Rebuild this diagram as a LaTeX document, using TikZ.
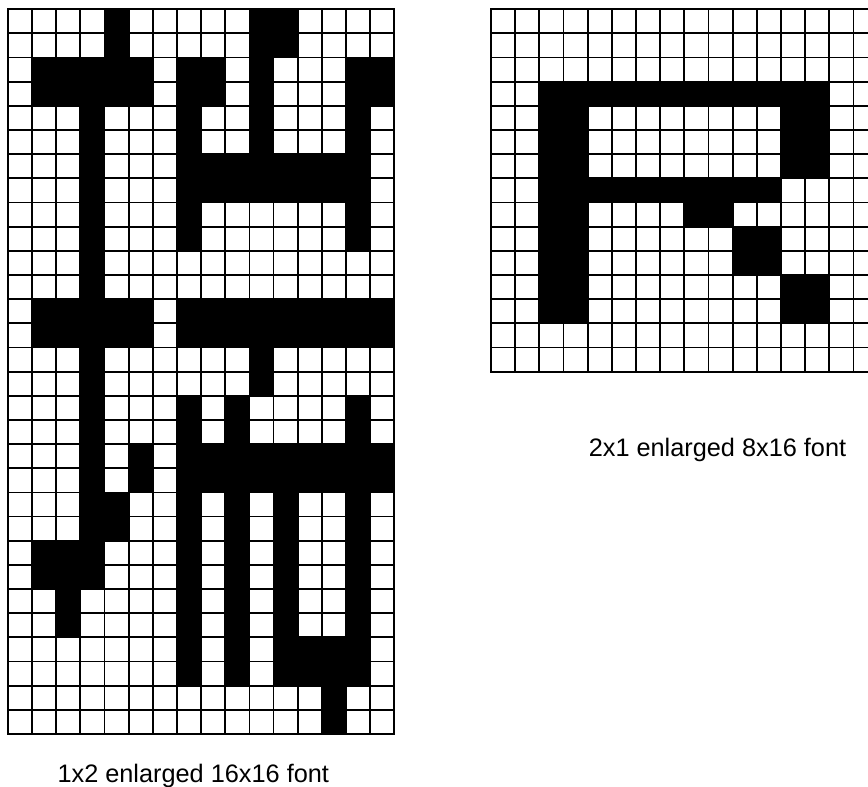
\documentclass[tikz,border=0pt]{standalone}
\usepackage{fontspec}
\setmainfont{Liberation Sans}
\begin{document}
\begin{tikzpicture}[x=1pt,y=-1pt,
  gridline/.style={line width=1.8pt, black, line cap=rect},
  cellfill/.style={fill=black},
  caption/.style={font=\fontsize{25.3}{30}\selectfont, inner sep=0pt, anchor=base}]
\useasboundingbox (0,0) rectangle (868,787);
\def\cs{24.16}
% left grid: 16 x 30
\begin{scope}[shift={(7.8,9.2)}]
  \foreach \r/\s/\a/\b in {0/1/4/4, 0/1/10/11,
    2/3/1/5, 2/3/7/8, 2/3/10/10, 2/3/14/15,
    4/5/3/3, 4/5/7/7, 4/5/10/10, 4/5/14/14,
    6/7/3/3, 6/7/7/14,
    8/9/3/3, 8/9/7/7, 8/9/14/14,
    10/11/3/3,
    12/13/1/5, 12/13/7/15,
    14/15/3/3, 14/15/10/10,
    16/17/3/3, 16/17/7/7, 16/17/9/9, 16/17/14/14,
    18/19/3/3, 18/19/5/5, 18/19/7/15,
    20/21/3/4, 20/21/7/7, 20/21/9/9, 20/21/11/11, 20/21/14/14,
    22/23/1/3, 22/23/7/7, 22/23/9/9, 22/23/11/11, 22/23/14/14,
    24/25/2/2, 24/25/7/7, 24/25/9/9, 24/25/11/11, 24/25/14/14,
    26/27/7/7, 26/27/9/9, 26/27/11/14,
    28/29/13/13}
    \fill[cellfill] ({\a*\cs},{\r*\cs}) rectangle ({(\b+1)*\cs},{(\s+1)*\cs});
  \foreach \i in {0,...,16}
    \draw[gridline] ({\i*\cs},0) -- ({\i*\cs},{30*\cs});
  \foreach \j in {0,...,30}
    \draw[gridline] (0,{\j*\cs}) -- ({16*\cs},{\j*\cs});
\end{scope}
% right grid: 16 x 15 (cut at the right edge)
\begin{scope}[shift={(491.0,9.2)}]
  \foreach \r/\s/\a/\b in {3/3/2/13,
    4/6/2/3, 4/6/12/13,
    7/7/2/11,
    8/8/2/3, 8/8/8/9,
    9/10/2/3, 9/10/10/11,
    11/12/2/3, 11/12/12/13}
    \fill[cellfill] ({\a*\cs},{\r*\cs}) rectangle ({(\b+1)*\cs},{(\s+1)*\cs});
  \foreach \i in {0,...,16}
    \draw[gridline] ({\i*\cs},0) -- ({\i*\cs},{15*\cs});
  \foreach \j in {0,...,15}
    \draw[gridline] (0,{\j*\cs}) -- ({16*\cs},{\j*\cs});
\end{scope}
\node[caption] (leftlabel) at (193.3,782.7) {1x2 enlarged 16x16 font};
\node[caption] (rightlabel) at (717.5,456) {2x1 enlarged 8x16 font};
\end{tikzpicture}
\end{document}
